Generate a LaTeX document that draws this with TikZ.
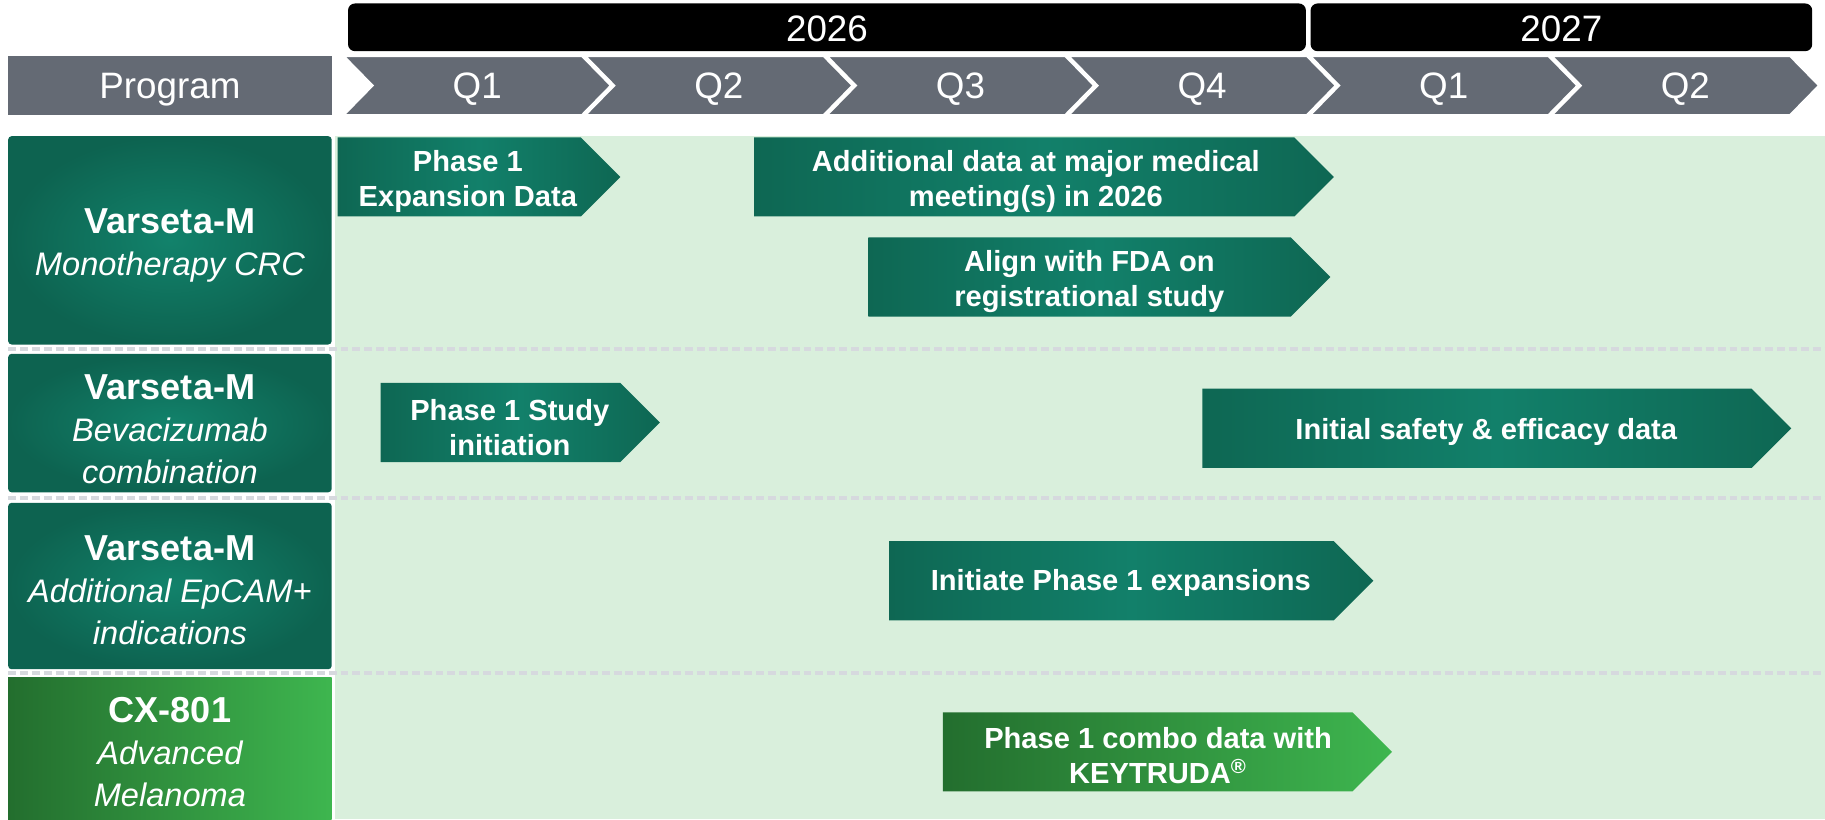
\documentclass[tikz,border=0pt]{standalone}
\usepackage{fontspec}
\setmainfont{Liberation Sans}
\definecolor{hdrgray}{HTML}{646A74}
\definecolor{bggreen}{HTML}{D9EFDC}
\definecolor{tealin}{HTML}{12826B}
\definecolor{tealout}{HTML}{0D6350}
\definecolor{tealedge}{HTML}{0E6753}
\definecolor{tealmid}{HTML}{12806A}
\definecolor{gdark}{HTML}{236E2E}
\definecolor{glight}{HTML}{3EB64F}
\definecolor{sepgray}{HTML}{D6D9DE}
\begin{document}
\begin{tikzpicture}[x=0.5pt,y=-0.5pt,
  hdrfont/.style={font=\fontsize{15.8}{18}\selectfont, text=white},
  yearbar/.style={hdrfont, fill=black, rounded corners=3pt, inner sep=0pt},
  hdrbox/.style={hdrfont, fill=hdrgray, inner sep=0pt},
  chev/.style={fill=hdrgray, draw=white, line width=1pt},
  leftbox/.style={fill=none, inner sep=0pt, rounded corners=1.5pt,
    inner color=tealin, outer color=tealout, minimum width=139pt},
  cxbox/.style={inner sep=0pt, left color=gdark, right color=glight, minimum width=139pt},
  ltext/.style={text=white, align=center, font=\fontsize{14}{18}\selectfont},
  tealarrow/.style={left color=tealedge, right color=tealedge, middle color=tealmid},
  greenarrow/.style={left color=gdark, right color=glight},
  atext/.style={text=white, align=center, font=\bfseries\fontsize{12.5}{15}\selectfont},
  sep/.style={draw=sepgray, line width=1.8pt, dash pattern=on 3.4pt off 1.7pt}
]
\useasboundingbox (0,0) rectangle (1568,704);

% background band
\fill[bggreen] (288,117) rectangle (1568,704);

% year bars
\node[yearbar, minimum width=411.5pt, minimum height=20.5pt] (y2026) at (710.5,23.5) {};
\node[hdrfont] (t2026) at (710.5,25) {2026};
\node[yearbar, minimum width=215.5pt, minimum height=20.5pt] (y2027) at (1341.5,23.5) {};
\node[hdrfont] (t2027) at (1341.5,25) {2027};

% program header
\node[hdrbox, minimum width=139pt, minimum height=25.5pt] (prog) at (146,73.5) {};
\node[hdrfont] (tprog) at (146,77) {Program};

% quarter chevrons
\foreach \i/\q in {0/Q1,1/Q2,2/Q3,3/Q4,4/Q1,5/Q2}{
  \pgfmathsetmacro{\L}{295+207.6*\i}
  \pgfmathsetmacro{\R}{\L+205}
  \path[chev] (\L,48) -- (\R,48) -- (\R+25,73.5) -- (\R,99) -- (\L,99) -- (\L+25,73.5) -- cycle;
  \node[hdrfont] (q\i) at (\L+115,76.5) {\q};
}

% separators
\draw[sep] (7,300) -- (1568,300);
\draw[sep] (7,428) -- (1568,428);
\draw[sep] (7,578.5) -- (1568,578.5);

% program boxes
\node[leftbox, minimum height=89.5pt] (p1) at (146,206.5) {};
\node[ltext] (l1) at (146,211)
  {{\bfseries\fontsize{15.5}{18}\selectfont Varseta-M}\\\itshape Monotherapy CRC};
\node[leftbox, minimum height=59.5pt] (p2) at (146,363.5) {};
\node[ltext] (l2) at (146,369)
  {{\bfseries\fontsize{15.5}{17.5}\selectfont Varseta-M}\\\itshape Bevacizumab\\\itshape combination};
\node[leftbox, minimum height=71.5pt] (p3) at (146,503.5) {};
\node[ltext] (l3) at (146,507)
  {{\bfseries\fontsize{15.5}{17.5}\selectfont Varseta-M}\\\itshape Additional EpCAM+\\\itshape indications};
\node[cxbox, minimum height=61pt] (p4) at (146,643) {};
\node[ltext] (l4) at (146,646.5)
  {{\bfseries\fontsize{15.5}{17.5}\selectfont CX-801}\\\itshape Advanced\\\itshape Melanoma};

% milestone arrows
\shade[tealarrow] (290,118) -- (499,118) -- (533,152) -- (499,186) -- (290,186) -- cycle;
\node[atext] (m1) at (402,156) {Phase 1\\Expansion Data};

\shade[tealarrow] (648,118) -- (1112,118) -- (1146,152) -- (1112,186) -- (648,186) -- cycle;
\node[atext] (m2) at (890,156) {Additional data at major medical\\meeting(s) in 2026};

\shade[tealarrow] (746,204) -- (1109,204) -- (1143,238) -- (1109,272) -- (746,272) -- cycle;
\node[atext] (m3) at (936,242) {Align with FDA on\\registrational study};

\shade[tealarrow] (327,329) -- (533,329) -- (567,363) -- (533,397) -- (327,397) -- cycle;
\node[atext] (m4) at (438,367) {Phase 1 Study\\initiation};

\shade[tealarrow] (1033,334) -- (1505,334) -- (1539,368) -- (1505,402) -- (1033,402) -- cycle;
\node[atext] (m5) at (1277,371) {Initial safety \& efficacy data};

\shade[tealarrow] (764,465) -- (1146,465) -- (1180,499) -- (1146,533) -- (764,533) -- cycle;
\node[atext] (m6) at (963,501) {Initiate Phase 1 expansions};

\shade[greenarrow] (810,612) -- (1162,612) -- (1196,646) -- (1162,680) -- (810,680) -- cycle;
\node[atext] (m7) at (995,649) {Phase 1 combo data with\\KEYTRUDA\textsuperscript{\textregistered}};
\end{tikzpicture}
\end{document}
